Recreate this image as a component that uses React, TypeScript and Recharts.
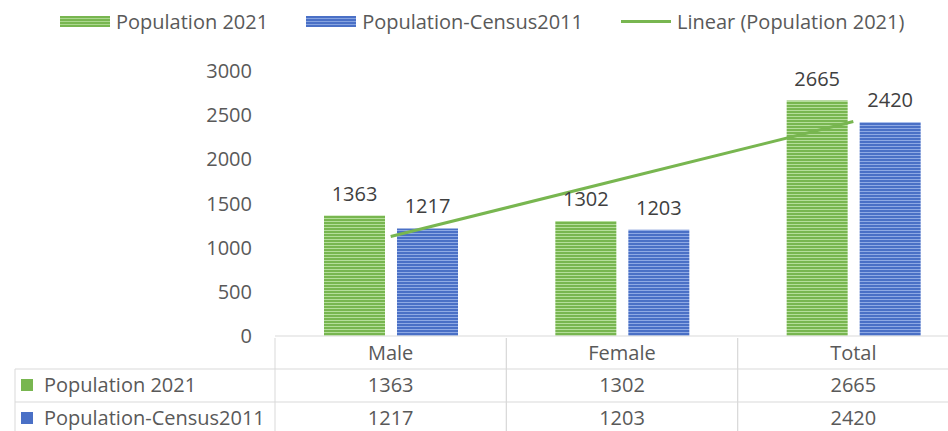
import { Bar, ComposedChart, LabelList, Line, XAxis, YAxis } from "recharts";

const categories = ["Male", "Female", "Total"];
const population2021 = [1363, 1302, 2665];
const census2011 = [1217, 1203, 2420];
// Excel linear trendline of Population 2021
const linear2021 = [1126, 1777, 2428];
const yTicks = [0, 500, 1000, 1500, 2000, 2500, 3000];

const seriesNames = ["Population 2021", "Population-Census2011", "Linear (Population 2021)"];

const GREEN = "#78b650";
const BLUE = "#4a70c6";
const TEXT = "#595959";
const GRID = "#d9d9d9";
const FONT = "'Open Sans', sans-serif";

const data = categories.map((category, i) => ({
  category,
  p2021: population2021[i],
  p2011: census2011[i],
  trend: linear2021[i],
}));

const rows = [
  { name: seriesNames[0], key: "p2021", color: GREEN },
  { name: seriesNames[1], key: "p2011", color: BLUE },
];

function YTick({ x, y, payload }: any) {
  return (
    <text x={x - 15} y={y} dy={7} textAnchor="end" fontSize={20} fill={TEXT} fontFamily={FONT}>
      {payload.value}
    </text>
  );
}

function TableTick({ x, y, payload, index }: any) {
  const half = payload.offset || 115.5;
  const left = x - half;
  const right = x + half;
  const row = data[index];
  const rowH = 33;
  return (
    <g fontFamily={FONT} fontSize={20} fill={TEXT}>
      <line x1={left} x2={left} y1={y} y2={y + 95} stroke={GRID} />
      <line x1={right} x2={right} y1={y} y2={y + 95} stroke={GRID} />
      <line x1={left} x2={right} y1={y + 31} y2={y + 31} stroke={GRID} />
      <line x1={left} x2={right} y1={y + 64} y2={y + 64} stroke={GRID} />
      <text x={x} y={y + 22} textAnchor="middle">{payload.value}</text>
      {rows.map((r, i) => (
        <text key={r.key} x={x} y={y + 54 + i * rowH} textAnchor="middle">
          {(row as any)[r.key]}
        </text>
      ))}
      {index === 0 && (
        <g>
          <line x1={15} x2={15} y1={y + 31} y2={y + 95} stroke={GRID} />
          <line x1={15} x2={left} y1={y + 31} y2={y + 31} stroke={GRID} />
          <line x1={15} x2={left} y1={y + 64} y2={y + 64} stroke={GRID} />
          {rows.map((r, i) => (
            <g key={r.key}>
              <rect x={21} y={y + 41 + i * rowH} width={12} height={12} fill={r.color} />
              <text x={44} y={y + 54 + i * rowH}>{r.name}</text>
            </g>
          ))}
        </g>
      )}
    </g>
  );
}

function Legend() {
  const item = (label: string, swatch: any) => (
    <div style={{ display: "flex", alignItems: "center", gap: 6 }}>
      {swatch}
      <span>{label}</span>
    </div>
  );
  return (
    <div
      style={{
        position: "absolute",
        top: 8,
        left: 60,
        display: "flex",
        gap: 38,
        fontFamily: FONT,
        fontSize: 20,
        color: TEXT,
        whiteSpace: "nowrap",
      }}
    >
      {item(seriesNames[0], <div style={{ width: 50, height: 11, background: `repeating-linear-gradient(${GREEN} 0 2px, #acd78f 2px 3px)` }} />)}
      {item(seriesNames[1], <div style={{ width: 50, height: 11, background: `repeating-linear-gradient(${BLUE} 0 2px, #86a3e0 2px 3px)` }} />)}
      {item(seriesNames[2], <div style={{ width: 50, height: 3, background: GREEN }} />)}
    </div>
  );
}

export default function App() {
  return (
    <div style={{ position: "relative", width: 948, height: 431, overflow: "hidden", background: "#fff" }}>
      <style>{"body{margin:0}"}</style>
      <Legend />
      <ComposedChart
        width={969}
        height={431}
        data={data}
        barGap={12}
        margin={{ top: 71, right: 0, bottom: 0, left: 0 }}
      >
        <defs>
          <pattern id="stripeGreen" width={4} height={3} patternUnits="userSpaceOnUse">
            <rect width={4} height={3} fill={GREEN} />
            <rect y={2} width={4} height={1} fill="#b4de9a" />
          </pattern>
          <pattern id="stripeBlue" width={4} height={3} patternUnits="userSpaceOnUse">
            <rect width={4} height={3} fill={BLUE} />
            <rect y={2} width={4} height={1} fill="#8ea9e4" />
          </pattern>
        </defs>
        <XAxis
          dataKey="category"
          height={95}
          axisLine={{ stroke: GRID }}
          tickLine={false}
          tickSize={0}
          tick={<TableTick />}
          interval={0}
        />
        <YAxis
          width={275}
          domain={[0, 3000]}
          ticks={yTicks}
          axisLine={false}
          tickLine={false}
          tick={<YTick />}
        />
        <Bar dataKey="p2021" fill="url(#stripeGreen)" barSize={61} isAnimationActive={false}>
          <LabelList dataKey="p2021" position="top" offset={15} fill="#404040" fontSize={20} fontFamily={FONT} />
        </Bar>
        <Bar dataKey="p2011" fill="url(#stripeBlue)" barSize={61} isAnimationActive={false}>
          <LabelList dataKey="p2011" position="top" offset={15} fill="#404040" fontSize={20} fontFamily={FONT} />
        </Bar>
        <Line
          dataKey="trend"
          stroke={GREEN}
          strokeWidth={3}
          dot={false}
          activeDot={false}
          isAnimationActive={false}
        />
      </ComposedChart>
    </div>
  );
}
